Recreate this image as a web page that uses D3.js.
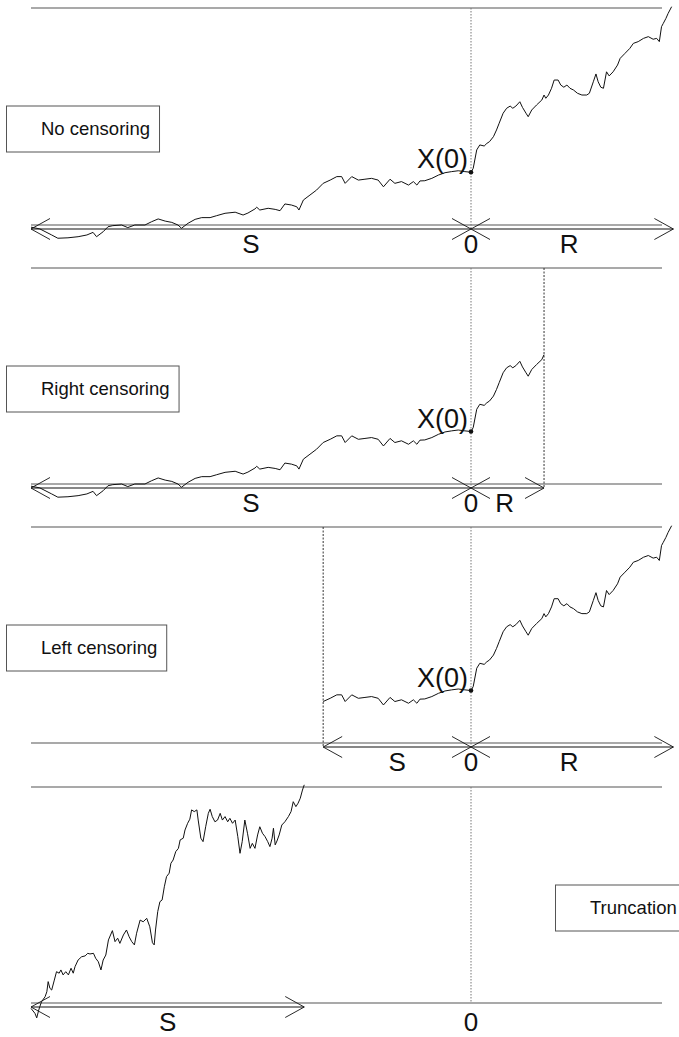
<!DOCTYPE html>
<html>
<head>
<meta charset="utf-8">
<script src="https://cdn.jsdelivr.net/npm/d3@7"></script>
<style>
  html, body { margin: 0; padding: 0; background: #fff; }
  svg { display: block; font-family: "Liberation Sans", Arial, Helvetica, sans-serif; }
</style>
</head>
<body>
<svg id="chart" width="679" height="1037"></svg>
<script>
// Sample path of the process: time (0 = observation time) and level.
const walkTime = [
  -100, -98, -95.3, -93.9, -91.6, -89.3, -87.3, -85.9, -85.1, -83.6,
  -82.5, -81.4, -79.4, -78.0, -76.4, -74.1, -72.6, -71.1, -69.5, -68.0,
  -66.6, -65.8, -64.3, -62.7, -61.2, -59.3, -57.8, -55.9, -53.6, -51.8,
  -50.7, -49.1, -48.7, -48.0, -46.1, -44.5, -43.4, -42.3, -40.8, -39.6,
  -39.1, -38.1, -36.6, -35.1, -33.6, -32.0, -30.5, -29.4, -28.6, -27.1,
  -25.6, -24.1, -22.6, -21.1, -19.9, -18.4, -17.3, -15.8, -14.2, -13.1,
  -12.3, -11.6, -10.5, -8.9, -7.4, -5.9, -4.4, -2.9, -1.4, 0,
  0.5, 1.3, 2.0, 3.0, 3.6, 4.2, 5.1, 5.8, 6.4, 7.3,
  8.1, 8.9, 9.5, 10.2, 11.1, 11.7, 12.5, 13.0, 13.8, 14.9,
  16.1, 16.6, 17.0, 17.6, 18.3, 18.9, 19.8, 20.4, 21.1, 21.8,
  22.5, 23.3, 24.2, 25.2, 26.3, 26.9, 27.8, 28.4, 28.9, 29.5,
  30.1, 30.8, 31.4, 32.3, 33.3, 33.9, 35.0, 36.1, 36.9, 38.0,
  39.2, 40.3, 41.4, 42.2, 42.8, 43.3, 43.7, 44.3, 44.8, 45.6
];
const walkLevel = [
  -1.0, -1.8, -4.6, -6.1, -5.9, -5.4, -4.6, -3.4, -5.4, -3.1,
  -0.8, -0.3, 0.0, -1.2, 0.0, 0.0, 1.5, 2.8, 1.8, 1.2,
  0.0, -1.5, 0.8, 2.6, 3.4, 3.4, 4.3, 5.4, 5.9, 4.6,
  5.5, 7.4, 8.2, 6.9, 7.7, 7.2, 6.6, 9.7, 9.2, 8.4,
  6.9, 11.5, 13.8, 16.1, 19.2, 20.7, 22.3, 22.3, 19.2, 22.3,
  20.7, 21.1, 21.5, 20.7, 17.6, 21.1, 19.2, 20.0, 18.4, 20.0,
  18.4, 20.3, 20.4, 21.5, 23.0, 24.1, 24.6, 25.0, 24.6, 24.3,
  26.1, 34.6, 36.9, 36.4, 37.6, 38.4, 40.7, 43.8, 46.9, 51.5,
  53.8, 54.8, 53.8, 54.8, 56.8, 54.2, 51.5, 49.9, 53.0, 55.3,
  57.6, 59.9, 58.4, 59.9, 63.0, 66.8, 66.8, 64.5, 63.5, 64.5,
  63.0, 62.2, 60.7, 59.9, 59.9, 60.7, 66.0, 69.6, 66.0, 63.5,
  63.0, 70.6, 68.7, 70.6, 73.7, 76.8, 79.1, 81.4, 83.7, 84.5,
  86.0, 86.8, 85.6, 86.0, 84.5, 91.4, 92.9, 95.2, 97.5, 100.6
];

// Path observed only on the truncated window.
const truncTime = [
  -100, -99.1, -98.7, -98.3, -98.0, -97.6, -96.8, -96.4, -96.1, -95.7,
  -95.3, -94.7, -94.2, -93.6, -93.2, -92.7, -92.1, -91.5, -90.9, -90.4,
  -90.0, -89.3, -88.5, -87.7, -87.1, -86.6, -85.8, -85.3, -84.7, -84.1,
  -83.6, -83.0, -82.4, -81.5, -80.9, -80.3, -79.8, -79.0, -78.3, -77.7,
  -77.1, -76.5, -76.0, -75.2, -74.5, -73.7, -73.0, -72.4, -72.0, -71.7,
  -71.2, -70.7, -70.2, -69.7, -69.2, -68.6, -68.2, -67.7, -67.1, -66.5,
  -66.1, -65.4, -65.0, -64.4, -63.9, -63.5, -62.9, -62.3, -62.0, -61.4,
  -60.9, -60.3, -59.7, -59.3, -58.8, -58.2, -57.6, -57.0, -56.5, -55.9,
  -55.3, -54.8, -54.2, -53.6, -53.0, -52.5, -52.0, -51.4, -50.8, -50.2,
  -49.7, -49.1, -48.5, -48.0, -47.4, -46.8, -46.2, -45.7, -45.2, -44.9,
  -44.5, -44.1, -43.6, -43.0, -42.3, -41.5, -40.9, -40.4, -39.8, -39.3,
  -38.8, -38.3, -37.9
];
const truncLevel = [
  -2.5, -4.8, -6.9, -3.7, -1.7, 0.6, 2.9, 5.2, 9.9, 6.8,
  6.0, 10.6, 14.5, 13.8, 15.3, 13.0, 14.5, 13.0, 16.1, 13.8,
  16.8, 19.9, 21.4, 21.8, 23.0, 22.7, 23.0, 20.7, 19.1, 15.3,
  19.9, 22.2, 29.2, 33.5, 28.4, 30.0, 27.6, 31.5, 33.8, 30.7,
  28.4, 26.9, 32.3, 38.4, 37.6, 39.2, 35.3, 27.9, 26.9, 33.8,
  42.3, 46.9, 47.7, 53.8, 58.5, 60.1, 64.7, 66.2, 70.1, 71.6,
  75.5, 76.3, 80.1, 83.2, 85.1, 89.4, 88.6, 89.4, 84.7, 76.3,
  74.7, 81.6, 87.8, 89.7, 86.3, 83.9, 84.7, 87.8, 84.7, 86.3,
  83.9, 85.5, 83.2, 84.7, 77.0, 69.3, 74.7, 84.7, 78.6, 71.6,
  73.9, 71.6, 77.8, 81.6, 78.6, 77.0, 74.7, 72.4, 76.3, 80.9,
  73.2, 75.0, 77.8, 82.4, 83.9, 86.3, 88.6, 93.2, 90.9, 92.5,
  94.8, 98.6, 101.0
];

// Observation window limits (time units).
const startS = -100;        // start of the past window S
const endR = 46;            // end of the future window R
const rightCensor = 16.6;   // right-censoring time
const leftCensor = -33.6;   // left-censoring time
const truncEnd = -37.9;     // end of the truncated record

const panelTitles = ["No censoring", "Right censoring", "Left censoring", "Truncation"];
const labelS = "S", labelR = "R", labelZero = "0", labelX0 = "X(0)";

const walk = walkTime.map((t, i) => ({ t, v: walkLevel[i] }));
const trunc = truncTime.map((t, i) => ({ t, v: truncLevel[i] }));

const svg = d3.select("#chart");
const x = d3.scaleLinear().domain([-100, 46]).range([31, 673.4]);
const lineLeft = 31, lineRight = 662;

const panels = [
  { top: 8,   base: 225,  data: walk,                                 sFrom: startS,     rTo: endR,        boxX: 6,   cuts: [] },
  { top: 268, base: 484,  data: walk.filter(d => d.t <= rightCensor), sFrom: startS,     rTo: rightCensor, boxX: 6,   cuts: [rightCensor] },
  { top: 527, base: 743,  data: walk.filter(d => d.t >= leftCensor),  sFrom: leftCensor, rTo: endR,        boxX: 6,   cuts: [leftCensor] },
  { top: 787, base: 1003, data: trunc,                                sFrom: startS,     rTo: null, sTo: truncEnd, boxX: 555, cuts: [] }
];

const ink = "#111";
const rule = "#555";
const labelSize = 26;

function arrow(g, x1, x2, y) {
  const L = 19, H = 10.5;
  g.append("line").attr("x1", x1).attr("x2", x2).attr("y1", y).attr("y2", y)
    .attr("stroke", ink).attr("stroke-width", 1.2);
  g.append("path")
    .attr("d", `M${x1 + L},${y - H}L${x1},${y}L${x1 + L},${y + H}M${x2 - L},${y - H}L${x2},${y}L${x2 - L},${y + H}`)
    .attr("fill", "none").attr("stroke", ink).attr("stroke-width", 0.9);
}

function label(g, xPos, yPos, str) {
  g.append("text").attr("x", xPos).attr("y", yPos)
    .attr("text-anchor", "middle").attr("font-size", labelSize).attr("fill", ink).text(str);
}

panels.forEach((p, i) => {
  const g = svg.append("g");
  const y = d3.scaleLinear().domain([0, 100]).range([p.base, p.top]);
  const arrowY = p.base + 4;

  // frame rules
  g.append("line").attr("x1", lineLeft).attr("x2", lineRight).attr("y1", p.top).attr("y2", p.top)
    .attr("stroke", rule).attr("stroke-width", 1.1);
  g.append("line").attr("x1", lineLeft).attr("x2", lineRight).attr("y1", p.base).attr("y2", p.base)
    .attr("stroke", rule).attr("stroke-width", 1.1);

  // dotted markers at time 0 and at censoring times
  [0].concat(p.cuts).forEach(t => {
    g.append("line").attr("x1", x(t)).attr("x2", x(t))
      .attr("y1", p.top).attr("y2", i === 3 ? p.base : arrowY)
      .attr("stroke", t === 0 ? "#777" : "#333").attr("stroke-width", 1)
      .attr("stroke-dasharray", t === 0 ? "1.5,1.5" : "2,1.5");
  });

  // path
  const line = d3.line().x(d => x(d.t)).y(d => y(d.v));
  g.append("path").datum(p.data).attr("d", line)
    .attr("fill", "none").attr("stroke", ink).attr("stroke-width", 1);

  // time windows
  const labelY = arrowY + 24;
  if (i < 3) {
    arrow(g, x(p.sFrom), x(0), arrowY);
    arrow(g, x(0), x(p.rTo), arrowY);
    label(g, (x(p.sFrom) + x(0)) / 2, labelY, labelS);
    label(g, (x(0) + x(p.rTo)) / 2 - 3, labelY, labelR);
    // X(0) marker
    const x0 = walk.find(d => d.t === 0);
    g.append("circle").attr("cx", x(0)).attr("cy", y(x0.v)).attr("r", 2.3).attr("fill", ink);
    g.append("text").attr("x", x(0) - 3).attr("y", y(x0.v) - 4)
      .attr("text-anchor", "end").attr("font-size", 27).attr("fill", ink).text(labelX0);
  } else {
    arrow(g, x(p.sFrom), x(p.sTo), arrowY);
    label(g, (x(p.sFrom) + x(p.sTo)) / 2, labelY, labelS);
  }
  label(g, x(0), labelY, labelZero);

  // title box
  const boxY = p.top + 97.5;
  const txt = g.append("text").attr("x", p.boxX + 35).attr("y", boxY + 29.5)
    .attr("font-size", 18.5).attr("fill", ink).text(panelTitles[i]);
  const w = txt.node().getComputedTextLength();
  g.insert("rect", "text").attr("x", p.boxX + 0.5).attr("y", boxY + 0.5)
    .attr("width", w + 44).attr("height", 46)
    .attr("fill", "#fff").attr("stroke", rule).attr("stroke-width", 1);
});
</script>
</body>
</html>
